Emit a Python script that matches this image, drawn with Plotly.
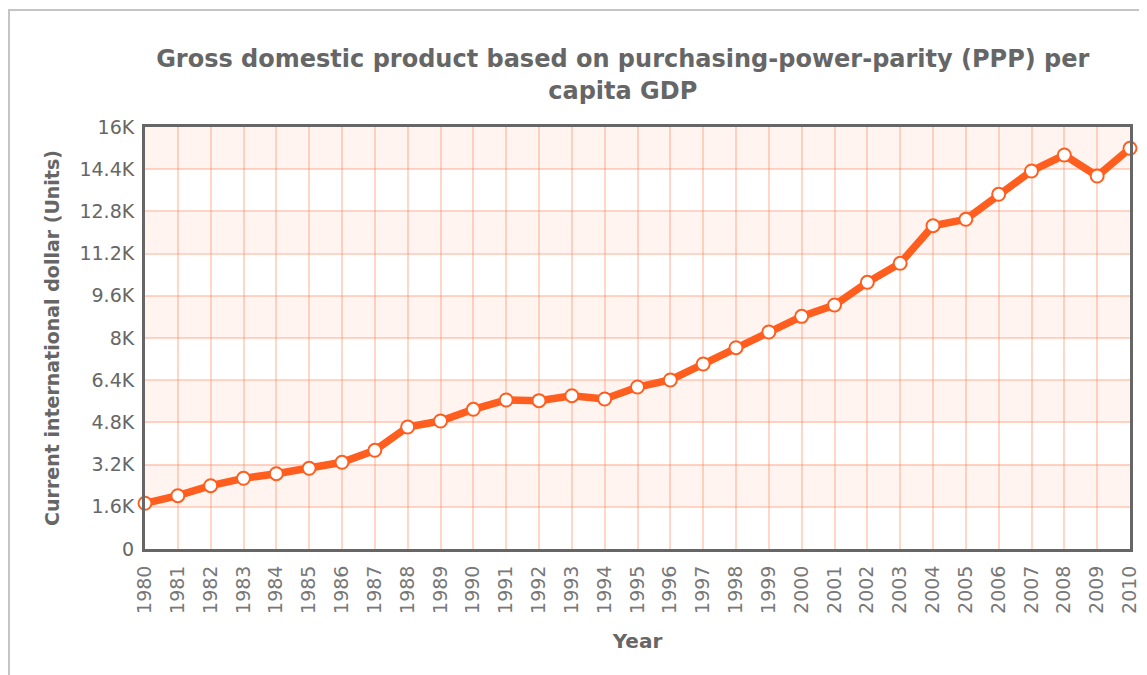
import plotly.graph_objects as go

years = list(range(1980, 2011))
gdp_ppp = [1733, 2021, 2400, 2680, 2855, 3059, 3287, 3742, 4626, 4853,
           5297, 5649, 5624, 5813, 5687, 6142, 6408, 7014, 7633, 8227,
           8820, 9251, 10111, 10832, 12258, 12500, 13448, 14332, 14938, 14142,
           15192]
y_tickvals = [0, 1600, 3200, 4800, 6400, 8000, 9600, 11200, 12800, 14400, 16000]
y_ticktext = ["0", "1.6K", "3.2K", "4.8K", "6.4K", "8K", "9.6K", "11.2K", "12.8K", "14.4K", "16K"]
x_ticktext = [str(y) for y in years]

title_text = "Gross domestic product based on purchasing-power-parity (PPP) per<br>capita GDP"
x_title = "Year"
y_title = "Current international dollar (Units)"

FONT = "DejaVu Sans"
GRAY = "#666666"
ORANGE = "#FF5E1F"

fig = go.Figure()
fig.add_trace(go.Scatter(
    x=years, y=gdp_ppp, mode="lines+markers",
    line=dict(color=ORANGE, width=7.5),
    marker=dict(size=13, color="white", line=dict(color=ORANGE, width=2)),
    cliponaxis=False, showlegend=False,
))

shapes = []
# alternating bands
for i in range(len(y_tickvals) - 1):
    if i % 2 == 1:
        shapes.append(dict(type="rect", xref="x", yref="y", x0=years[0], x1=years[-1],
                           y0=y_tickvals[i], y1=y_tickvals[i + 1],
                           fillcolor="#FFF4F0", line=dict(width=0), layer="below"))
# outer page border
shapes.append(dict(type="rect", xref="paper", yref="paper",
                   x0=-0.1381, x1=1.06, y0=-0.40, y1=1.2773,
                   line=dict(color="#C4C4C4", width=2), fillcolor="rgba(0,0,0,0)", layer="below"))

fig.update_layout(
    width=1147, height=675,
    margin=dict(l=137, r=25, t=119, b=134),
    paper_bgcolor="white", plot_bgcolor="white",
    font=dict(family=FONT, color=GRAY),
    title=dict(text="<b>" + title_text + "</b>", x=0.536, xref="container", xanchor="center",
               y=0.912, yref="container", yanchor="middle",
               font=dict(family=FONT, size=24, color=GRAY)),
    shapes=shapes,
    xaxis=dict(
        range=[years[0], years[-1]], tickvals=years, ticktext=x_ticktext, tickangle=-90,
        tickfont=dict(family=FONT, size=19, color="#777777"),
        showgrid=True, gridcolor="rgba(255,110,60,0.28)", gridwidth=1.5,
        showline=True, mirror=True, linecolor=GRAY, linewidth=3,
        ticks="outside", ticklen=6, tickcolor="rgba(0,0,0,0)",
        zeroline=False,
        title=dict(text="<b>" + x_title + "</b>", font=dict(family=FONT, size=20, color=GRAY), standoff=22),
    ),
    yaxis=dict(
        range=[0, 16000], tickvals=y_tickvals, ticktext=y_ticktext,
        tickfont=dict(family=FONT, size=19, color=GRAY),
        showgrid=True, gridcolor="rgba(255,110,60,0.28)", gridwidth=1.5,
        showline=True, mirror=True, linecolor=GRAY, linewidth=3,
        ticks="outside", ticklen=4, tickcolor="rgba(0,0,0,0)",
        zeroline=False,
        title=dict(text="<b>" + y_title + "</b>", font=dict(family=FONT, size=19, color=GRAY), standoff=15),
    ),
)

fig.write_html("out.html")
